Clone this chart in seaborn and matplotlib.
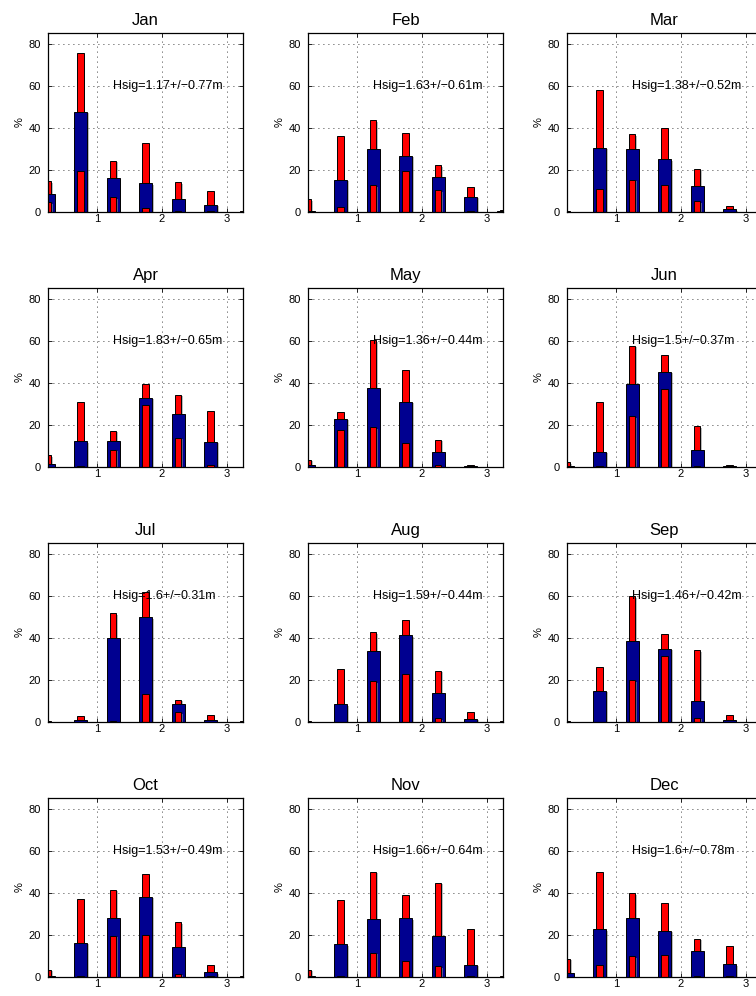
import numpy as np
import pandas as pd
import matplotlib
matplotlib.use("Agg")
import matplotlib.pyplot as plt
import matplotlib.patheffects as pe
import seaborn as sns

# -----------------------------
# DATA
# -----------------------------

months = ["Jan", "Feb", "Mar", "Apr", "May", "Jun",
          "Jul", "Aug", "Sep", "Oct", "Nov", "Dec"]

# wave height bin centres (m)
bins = [0.25, 0.75, 1.25, 1.75, 2.25, 2.75, 3.25]

# % of time in each bin: maximum year
pct_max = [
    [14.6, 75.7, 24.3, 32.9, 14.3, 10.2, 0.3],
    [6.2, 36.0, 43.5, 37.6, 22.1, 11.7, 1.0],
    [0.5, 58.1, 37.1, 39.7, 20.5, 2.9, 0.2],
    [5.7, 30.8, 17.3, 39.2, 34.4, 26.7, 0.2],
    [3.5, 25.9, 60.2, 45.9, 13.0, 1.1, 0.2],
    [2.4, 31.1, 57.6, 53.2, 19.5, 1.0, 0.0],
    [0.3, 3.0, 51.6, 61.6, 10.6, 3.5, 0.3],
    [0.3, 25.1, 42.7, 48.4, 24.3, 4.9, 0.3],
    [0.3, 26.0, 59.7, 41.6, 34.1, 3.2, 0.0],
    [3.5, 37.2, 41.5, 49.1, 26.0, 5.9, 0.3],
    [3.5, 36.4, 50.0, 39.1, 44.8, 23.0, 0.5],
    [8.7, 50.0, 39.8, 35.3, 18.2, 14.9, 0.2],
]

# % of time in each bin: mean over years
pct_mean = [
    [8.7, 47.6, 16.2, 13.8, 6.3, 3.5, 0.2],
    [0.6, 15.4, 30.0, 26.8, 16.8, 7.3, 0.3],
    [0.2, 30.5, 29.7, 25.2, 12.4, 1.4, 0.1],
    [1.6, 12.2, 12.4, 33.0, 25.4, 12.1, 0.0],
    [1.1, 23.0, 37.3, 31.0, 7.1, 0.5, 0.0],
    [0.6, 7.3, 39.2, 45.2, 7.9, 0.3, 0.0],
    [0.0, 0.8, 39.7, 49.8, 8.4, 0.8, 0.0],
    [0.0, 8.4, 33.7, 41.3, 14.0, 1.6, 0.0],
    [0.0, 14.8, 38.7, 34.9, 10.0, 0.8, 0.0],
    [0.6, 16.3, 28.0, 38.2, 14.3, 2.2, 0.0],
    [0.6, 15.7, 27.7, 27.9, 19.6, 5.9, 0.0],
    [1.9, 22.7, 27.9, 22.0, 12.5, 6.0, 0.0],
]

# % of time in each bin: minimum year
pct_min = [
    [4.8, 19.4, 7.0, 1.7, 0.3, 0.3, 0.0],
    [0.0, 2.2, 12.7, 19.5, 10.5, 0.3, 0.0],
    [0.0, 11.1, 15.4, 12.7, 5.1, 0.2, 0.0],
    [0.0, 0.3, 8.3, 29.5, 14.0, 0.8, 0.0],
    [0.0, 17.6, 18.9, 11.6, 0.8, 0.0, 0.0],
    [0.0, 0.3, 24.1, 37.0, 0.6, 0.0, 0.0],
    [0.0, 0.0, 0.3, 13.2, 4.6, 0.0, 0.0],
    [0.0, 0.2, 19.4, 23.0, 1.9, 0.2, 0.0],
    [0.0, 0.2, 20.0, 31.4, 2.1, 0.0, 0.0],
    [0.0, 0.6, 19.6, 20.1, 1.6, 0.5, 0.0],
    [0.0, 0.3, 11.6, 7.6, 5.2, 0.3, 0.0],
    [0.0, 5.7, 10.0, 10.6, 0.3, 0.3, 0.0],
]

hsig_mean = ["1.17", "1.63", "1.38", "1.83", "1.36", "1.5",
             "1.6", "1.59", "1.46", "1.53", "1.66", "1.6"]
hsig_std = ["0.77", "0.61", "0.52", "0.65", "0.44", "0.37",
            "0.31", "0.44", "0.42", "0.49", "0.64", "0.78"]

# -----------------------------
# STYLE
# -----------------------------

sns.set_theme(style="white")
plt.rcParams["font.family"] = ["Liberation Sans", "DejaVu Sans"]
plt.rcParams["text.color"] = "black"
plt.rcParams["axes.labelcolor"] = "black"
plt.rcParams["axes.titlecolor"] = "black"

RED = "#ff0000"
NAVY = "#000090"

W, H = 756, 996
fig = plt.figure(figsize=(W / 100, H / 100), dpi=100)

col_left = [48, 308, 567]
row_top = [33, 288, 543, 798]
ax_w, ax_h = 195, 179

shadow = [pe.SimplePatchShadow(offset=(1.2, -1.2), shadow_rgbFace="0.55", alpha=0.6),
          pe.Normal()]

# -----------------------------
# ONE PANEL PER MONTH
# -----------------------------

for i, month in enumerate(months):
    r, c = divmod(i, 3)
    ax = fig.add_axes([col_left[c] / W, 1 - (row_top[r] + ax_h) / H,
                       ax_w / W, ax_h / H])
    ax.set_axisbelow(True)

    for vals, color, width in [(pct_max[i], RED, 0.2),
                               (pct_mean[i], NAVY, 0.4),
                               (pct_min[i], RED, 0.2)]:
        sns.barplot(
            x=bins,
            y=vals,
            native_scale=True,
            width=width,
            color=color,
            saturation=1,
            edgecolor="black",
            linewidth=0.7,
            errorbar=None,
            ax=ax,
        )

    for p in ax.patches:
        p.set_path_effects(shadow)

    ax.set_xlim(0.25, 3.25)
    ax.set_ylim(0, 85)
    ax.set_xticks([1, 2, 3])
    ax.set_xticklabels(["1", "2", "3"])
    ax.set_yticks([0, 20, 40, 60, 80])
    ax.set_yticklabels(["0", "20", "40", "60", "80"])

    ax.grid(True, color="black", linestyle=(0, (1, 5)), linewidth=0.6)
    for s in ax.spines.values():
        s.set_visible(True)
        s.set_color("black")
        s.set_linewidth(0.9)

    ax.tick_params(axis="both", direction="in", length=3, width=0.6,
                   labelsize=8, colors="black", top=True, right=True,
                   bottom=True, left=True)
    ax.tick_params(axis="x", pad=1.5)
    ax.tick_params(axis="y", pad=5)

    ax.set_xlabel("")
    ax.set_ylabel("%", fontsize=8, labelpad=3)
    ax.set_title(month, fontsize=12, pad=6)

    ax.text(1.25, 60, f"Hsig={hsig_mean[i]}+/\u2212{hsig_std[i]}m",
            fontsize=9, ha="left", va="center")

fig.savefig("out.png", dpi=100)
